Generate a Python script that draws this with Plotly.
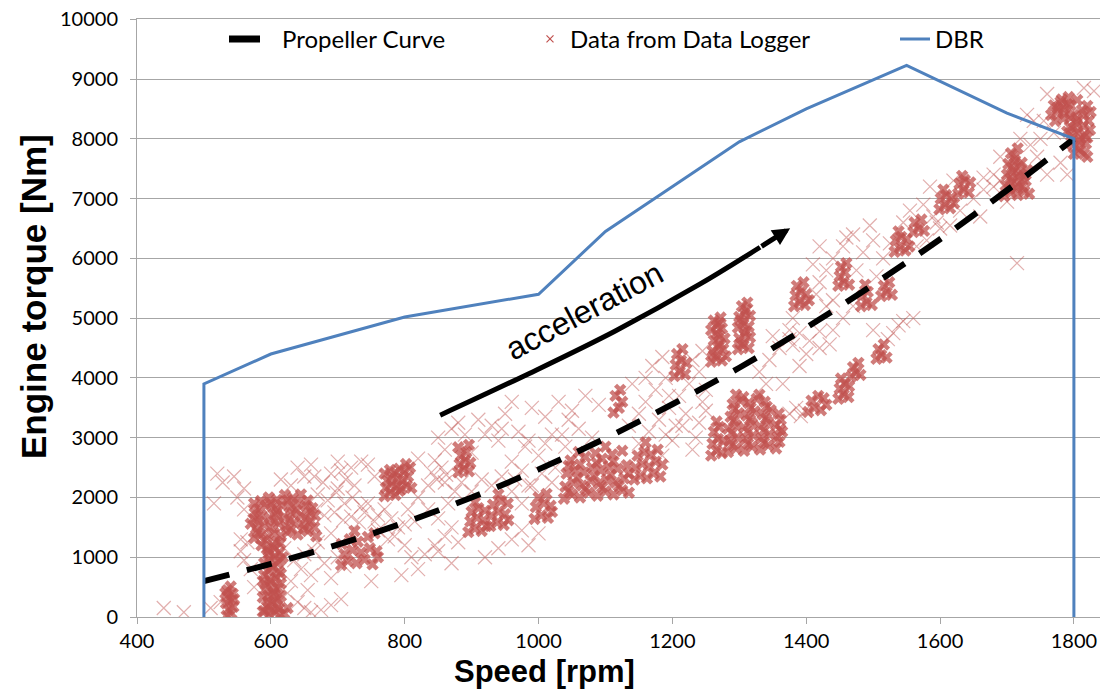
import plotly.graph_objects as go

# ---------------- data ----------------
speed_ticks = [400, 600, 800, 1000, 1200, 1400, 1600, 1800]
torque_ticks = [0, 1000, 2000, 3000, 4000, 5000, 6000, 7000, 8000, 9000, 10000]

prop_speed = [500, 600, 700, 800, 900, 1000, 1100, 1200, 1300, 1400, 1500, 1600, 1700, 1800]
prop_torque = [600, 890, 1210, 1580, 2000, 2470, 2990, 3560, 4170, 4840, 5560, 6320, 7140, 8000]

dbr_speed = [500, 500, 600, 800, 1000, 1100, 1300, 1400, 1550, 1700, 1800, 1800]
dbr_torque = [0, 3900, 4400, 5020, 5400, 6450, 7950, 8500, 9230, 8430, 8000, 0]

arrow_speed = [853, 987, 1114, 1241, 1331, 1376]
arrow_torque = [3377, 4080, 4782, 5568, 6186, 6504]

# dense logger clusters (speed rpm, torque Nm)
dense_low = [
    (534, 20), (541, 60), (537, 120), (544, 170), (533, 230), (540, 280), (536, 340), (543, 390),
    (535, 450), (540, 510), (545, 300), (532, 400),
    (598, 30), (606, 80), (612, 140), (594, 180), (602, 240), (609, 300), (596, 360), (604, 420),
    (611, 480), (592, 540), (600, 600), (608, 660), (615, 720), (595, 780), (603, 840), (610, 900),
    (598, 960), (606, 1020), (613, 1080), (594, 1140), (602, 1200), (609, 1260), (620, 60), (625, 150),
    (588, 90), (615, 350), (590, 700), (618, 1000), (586, 1200), (600, 120), (604, 500), (597, 1100),
    (590, 100), (614, 40), (596, 260), (610, 200), (588, 330), (606, 380), (592, 460), (615, 560),
    (598, 640), (588, 600), (612, 760), (600, 820), (590, 900), (614, 950), (596, 1050), (606, 1150),
    (590, 1280), (614, 1230),
    (575, 1320), (585, 1380), (595, 1340), (605, 1400), (615, 1360), (625, 1420), (640, 1380), (655, 1440),
    (668, 1350), (578, 1480), (590, 1540), (600, 1500), (612, 1560), (622, 1520), (635, 1580), (648, 1540),
    (660, 1600), (574, 1640), (586, 1700), (598, 1660), (608, 1720), (620, 1680), (632, 1740), (645, 1700),
    (658, 1760), (580, 1800), (592, 1860), (604, 1820), (616, 1880), (628, 1840), (640, 1900), (652, 1860),
    (585, 1940), (597, 2000), (609, 1960), (621, 2040), (633, 1990), (645, 2050),
    (580, 1420), (630, 1460), (650, 1480), (665, 1500), (570, 1560), (582, 1600), (605, 1610), (628, 1630),
    (652, 1650), (666, 1700), (576, 1740), (610, 1770), (638, 1790), (662, 1820), (600, 1900), (625, 1950),
    (575, 1900), (655, 1950),
    (770, 2020), (778, 2080), (786, 2040), (792, 2110), (772, 2160), (780, 2220), (788, 2180), (774, 2280),
    (782, 2340), (790, 2300), (770, 2400), (778, 2460), (786, 2420), (792, 2480),
    (705, 870), (715, 940), (728, 900), (740, 960), (752, 880), (760, 1000), (710, 1050), (722, 1120),
    (735, 1080), (748, 1150), (758, 1100), (706, 1220), (718, 1300), (730, 1260), (745, 1340), (755, 1400),
    (725, 1440),
    (795, 2140), (803, 2200), (810, 2160), (797, 2290), (805, 2350), (799, 2440), (808, 2500), (802, 2560),
]

dense_mid = [
    (880, 2420), (888, 2480), (896, 2440), (882, 2560), (890, 2620), (898, 2580), (884, 2700), (892, 2760),
    (880, 2840), (896, 2880),
    (895, 1420), (905, 1480), (915, 1440), (922, 1520), (898, 1600), (908, 1660), (918, 1620), (900, 1760),
    (910, 1820), (920, 1780), (905, 1920),
    (928, 1520), (938, 1580), (948, 1540), (955, 1620), (930, 1700), (940, 1760), (950, 1720), (932, 1880),
    (944, 1940), (954, 1900), (940, 2050),
    (994, 1640), (1004, 1700), (1014, 1660), (1020, 1760), (996, 1840), (1008, 1900), (1018, 1860),
    (1000, 2000), (1012, 2060),
    (1038, 1980), (1050, 2050), (1062, 2000), (1075, 2080), (1088, 2030), (1100, 2100), (1112, 2050),
    (1125, 2120), (1135, 2080), (1040, 2180), (1052, 2250), (1065, 2200), (1078, 2280), (1090, 2230),
    (1102, 2300), (1115, 2250), (1128, 2320), (1042, 2400), (1055, 2460), (1068, 2420), (1080, 2500),
    (1093, 2450), (1105, 2520), (1118, 2480), (1132, 2540), (1048, 2620), (1070, 2680), (1095, 2650),
    (1110, 2720), (1125, 2780),
    (1045, 2100), (1070, 2140), (1095, 2170), (1120, 2190), (1058, 2330), (1083, 2360), (1108, 2380),
    (1135, 2400), (1045, 2530), (1062, 2550), (1087, 2580), (1112, 2600), (1060, 2760), (1085, 2740),
    (1100, 2850),
    (1112, 3420), (1120, 3500), (1125, 3600), (1115, 3700), (1122, 3800),
    (1143, 2300), (1152, 2360), (1162, 2320), (1172, 2400), (1182, 2350), (1145, 2500), (1155, 2560),
    (1165, 2520), (1175, 2600), (1185, 2550), (1148, 2700), (1158, 2760), (1168, 2720), (1178, 2800),
    (1160, 2920),
]

dense_high = [
    (1258, 4270), (1266, 4330), (1274, 4290), (1280, 4360), (1260, 4450), (1268, 4520), (1276, 4480),
    (1262, 4630), (1270, 4700), (1278, 4660), (1258, 4800), (1266, 4870), (1274, 4830), (1262, 4960),
    (1272, 5010), (1262, 4380), (1272, 4560), (1266, 4740), (1270, 4920),
    (1298, 4480), (1306, 4540), (1314, 4500), (1300, 4660), (1308, 4720), (1316, 4680), (1298, 4840),
    (1306, 4900), (1314, 4860), (1300, 5020), (1308, 5080), (1316, 5040), (1304, 5200), (1312, 5260),
    (1302, 4580), (1310, 4780), (1302, 4960), (1310, 5140),
    (1203, 4030), (1211, 4100), (1219, 4060), (1205, 4220), (1213, 4290), (1221, 4250), (1207, 4400),
    (1215, 4480),
    (1283, 2760), (1295, 2820), (1307, 2780), (1319, 2850), (1331, 2800), (1343, 2870), (1355, 2820),
    (1285, 2950), (1297, 3010), (1309, 2970), (1321, 3040), (1333, 2990), (1345, 3060), (1357, 3010),
    (1364, 3100), (1283, 3150), (1295, 3210), (1307, 3170), (1319, 3240), (1331, 3190), (1343, 3260),
    (1355, 3210), (1287, 3350), (1299, 3410), (1311, 3370), (1323, 3440), (1335, 3390), (1347, 3460),
    (1359, 3400), (1290, 3560), (1302, 3620), (1314, 3580), (1326, 3650), (1338, 3600), (1295, 3720),
    (1290, 2880), (1313, 2900), (1337, 2920), (1360, 2930), (1289, 3080), (1313, 3100), (1337, 3120),
    (1361, 3140), (1292, 3280), (1316, 3300), (1340, 3320), (1362, 3300), (1293, 3480), (1317, 3500),
    (1341, 3520), (1306, 3680), (1330, 3720),
    (1258, 2700), (1266, 2780), (1274, 2740), (1260, 2900), (1268, 2980), (1276, 2940), (1262, 3100),
    (1270, 3180), (1266, 3270),
    (1382, 5200), (1390, 5260), (1398, 5220), (1404, 5300), (1384, 5380), (1392, 5440), (1400, 5400),
    (1386, 5540), (1396, 5600),
    (1448, 3650), (1456, 3720), (1463, 3680), (1450, 3820), (1458, 3900), (1464, 3860), (1452, 3990),
    (1403, 3430), (1412, 3500), (1422, 3460), (1430, 3550), (1408, 3620), (1418, 3700), (1426, 3660),
    (1448, 5540), (1456, 5600), (1464, 5560), (1450, 5700), (1458, 5760), (1452, 5860), (1460, 5920),
    (1482, 5200), (1490, 5260), (1498, 5220), (1484, 5380), (1492, 5440), (1488, 5560),
    (1512, 5370), (1520, 5430), (1528, 5390), (1516, 5540), (1524, 5600),
    (1532, 6110), (1540, 6170), (1548, 6130), (1554, 6200), (1534, 6300), (1542, 6360), (1550, 6320),
    (1538, 6450),
    (1560, 6440), (1568, 6500), (1576, 6460), (1562, 6600), (1572, 6650),
    (1599, 6820), (1607, 6880), (1615, 6840), (1621, 6920), (1601, 7000), (1609, 7060), (1617, 7020),
    (1605, 7150),
    (1627, 7080), (1635, 7140), (1643, 7100), (1629, 7250), (1637, 7310), (1645, 7270), (1633, 7380),
    (1467, 4020), (1474, 4090), (1481, 4050), (1470, 4180), (1478, 4250),
    (1505, 4320), (1512, 4380), (1520, 4340), (1508, 4480), (1516, 4560),
    (1696, 7040), (1706, 7100), (1716, 7060), (1726, 7120), (1733, 7080), (1698, 7220), (1708, 7280),
    (1718, 7240), (1728, 7300), (1700, 7400), (1710, 7460), (1720, 7420), (1730, 7480), (1702, 7580),
    (1712, 7640), (1722, 7600), (1706, 7760), (1716, 7840),
    (1703, 7160), (1713, 7180), (1723, 7200), (1705, 7340), (1715, 7360), (1725, 7380), (1707, 7520),
    (1717, 7540), (1711, 7700),
    (1766, 8400), (1776, 8460), (1786, 8420), (1770, 8560), (1780, 8620), (1790, 8580), (1772, 8300),
    (1784, 8340), (1794, 8200), (1804, 8260), (1814, 8220), (1822, 8300), (1796, 8050), (1806, 8110),
    (1816, 8070), (1824, 8150), (1798, 7900), (1808, 7960), (1818, 7920), (1800, 7750), (1810, 7800),
    (1820, 7700), (1800, 8400), (1812, 8480), (1820, 8550), (1805, 8650), (1792, 8700),
    (1775, 8520), (1785, 8500), (1795, 8360), (1805, 8330), (1815, 8400), (1825, 8450), (1790, 8120),
    (1800, 8180), (1810, 8000), (1820, 8020), (1805, 7850), (1815, 7750), (1782, 8660), (1795, 8560),
]

# scattered individual logger readings
sparse = [
    (555, 1100), (565, 1250), (560, 950), (625, 400), (640, 250), (650, 150), (660, 80), (675, 120),
    (690, 200), (705, 300), (630, 600), (645, 800), (660, 700), (680, 900), (700, 1000), (620, 1150),
    (665, 1100), (690, 650), (710, 850), (655, 450), (635, 950), (570, 800), (575, 500),
    (440, 150), (470, 80), (520, 2400), (528, 2250), (545, 2350), (560, 2150), (550, 2000), (515, 1900),
    (525, 250), (560, 1800), (510, 150), (555, 1300),
    (665, 2350), (678, 2250), (690, 2400), (700, 2150), (712, 2300), (725, 2200), (670, 2050), (685, 1950),
    (698, 2080), (710, 1900), (722, 2000), (735, 1850), (668, 1800), (680, 1700), (695, 1750), (708, 1620),
    (720, 1680), (732, 1580),
    (700, 2600), (745, 2550), (760, 1700), (790, 1500), (800, 1200), (775, 1300), (810, 1000), (820, 800),
    (795, 700), (750, 600), (735, 2600), (820, 2650), (805, 1800),
    (835, 2200), (848, 2300), (860, 2250), (840, 2420), (855, 2500), (845, 2620), (862, 2380),
    (850, 3000), (870, 3150), (890, 3050), (910, 3300), (930, 3200), (950, 3400), (970, 3100), (990, 3500),
    (1010, 3350), (1030, 3600), (1050, 3450), (1070, 3700), (1090, 3550), (940, 2950), (980, 2850),
    (1020, 3050), (1060, 3150), (1000, 2700), (960, 3600), (1080, 3000), (900, 2750), (860, 2800),
    (1040, 2850),
    (830, 1050), (845, 1200), (860, 1350), (850, 1100), (870, 900), (880, 1250), (960, 1300), (975, 1450),
    (985, 1200), (940, 1150), (920, 1000), (1000, 1400),
    (965, 2300), (975, 2450), (985, 2200), (960, 2600), (1025, 2500),
    (1150, 2900), (1165, 3100), (1180, 3300), (1195, 3500), (1210, 3700), (1225, 3900), (1240, 4100),
    (1160, 3600), (1175, 3800), (1190, 4000), (1205, 3200), (1220, 3400), (1235, 3000), (1245, 3600),
    (1150, 3400), (1170, 4200), (1230, 2800), (1185, 2700), (1250, 3800),
    (1375, 4650), (1390, 4750), (1405, 4620), (1420, 4780), (1380, 4550), (1435, 4560),
    (1392, 3360), (1398, 3450), (1385, 3500), (1375, 3400),
    (1522, 4650), (1530, 4750), (1538, 4880), (1545, 4950), (1560, 5000), (1500, 4800),
    (1440, 6000), (1455, 6200), (1470, 6400), (1485, 6100), (1500, 6300), (1515, 6000), (1430, 5800),
    (1420, 6200), (1410, 5900), (1475, 5800), (1505, 5700), (1495, 6550), (1460, 6350), (1525, 6250),
    (1730, 8400), (1750, 8000), (1680, 7400), (1760, 7400), (1715, 5920), (1745, 7700), (1690, 7700),
    (1665, 7350), (1660, 6700), (1700, 6950), (1830, 8800), (1815, 8850), (1740, 8300),
    (1575, 6900), (1585, 7200), (1590, 6700), (1600, 6500), (1555, 6800), (1620, 7300),
    (615, 2300), (630, 2200), (650, 2350), (640, 2500), (660, 2550), (720, 2500), (705, 2450), (755, 2350),
    (745, 1900), (755, 1600), (770, 1800), (780, 1650), (740, 1750), (760, 1450), (785, 1350), (800, 1550),
    (815, 1600), (690, 1400), (670, 1250), (650, 1050),
    (820, 2000), (835, 1800), (850, 1650), (865, 1900), (875, 2100), (885, 2250), (870, 1500), (900, 2100),
    (915, 2300), (930, 2200), (945, 2350), (960, 2100), (975, 1900), (990, 2200), (1005, 2400),
    (1020, 2250), (880, 3250), (920, 3050), (945, 3150), (985, 2950), (1010, 2900), (1045, 3300),
    (1035, 3050),
    (1190, 3050), (1200, 2950), (1215, 3200), (1240, 3250), (1250, 3450), (1195, 3700), (1230, 4300),
    (1245, 4450), (1185, 4350), (1160, 4000), (1140, 3900), (1135, 3200),
    (1330, 4100), (1345, 4300), (1360, 4500), (1375, 4800), (1350, 4700), (1340, 3900), (1365, 3900),
    (1390, 4200), (1400, 4400), (1420, 4500), (1440, 4800), (1455, 5000), (1470, 5200), (1430, 5200),
    (1415, 5400), (1380, 5000), (1420, 5600), (1440, 5300),
    (1545, 6600), (1565, 6200), (1580, 6300), (1595, 6600), (1615, 6550), (1630, 6800), (1650, 7000),
    (1665, 7150), (1680, 7200), (1690, 7300), (1735, 7900), (1720, 8000), (1755, 8300), (1770, 8100),
    (1780, 7600), (1790, 7400), (1760, 8750),
]

RED = "#C0504D"
TICK_FONT = dict(family="Lato, Open Sans", size=20, color="black")
dense = dense_low + dense_mid + dense_high

fig = go.Figure()

fig.add_trace(go.Scatter(
    x=[p[0] for p in sparse], y=[p[1] for p in sparse], mode="markers",
    marker=dict(symbol="x-thin", size=14, color=RED, opacity=0.45,
                line=dict(color=RED, width=1.2)),
    showlegend=False, hoverinfo="skip"))

fig.add_trace(go.Scatter(
    x=[p[0] for p in dense], y=[p[1] for p in dense], mode="markers",
    marker=dict(symbol="x", size=11, color=RED, opacity=0.75, line=dict(width=0)),
    showlegend=False, hoverinfo="skip"))

# legend-only entries (keys drawn as in the original)
fig.add_trace(go.Scatter(
    x=[None], y=[None], mode="lines", name="Propeller Curve", legend="legend",
    line=dict(color="black", width=7, dash="31px,200px")))
fig.add_trace(go.Scatter(
    x=[None], y=[None], mode="markers", name="Data from Data Logger", legend="legend2",
    marker=dict(symbol="x-thin", size=7, color=RED, line=dict(color=RED, width=1.2))))

fig.add_trace(go.Scatter(
    x=prop_speed, y=prop_torque, mode="lines", showlegend=False, hoverinfo="skip",
    line=dict(color="black", width=6, dash="26px,18px", shape="spline")))

fig.add_trace(go.Scatter(
    x=dbr_speed, y=dbr_torque, mode="lines", name="DBR", legend="legend3",
    line=dict(color="#4F81BD", width=3)))

fig.add_trace(go.Scatter(
    x=arrow_speed[:-1], y=arrow_torque[:-1], mode="lines",
    line=dict(color="black", width=5, shape="spline"), showlegend=False, hoverinfo="skip"))

fig.add_annotation(x=arrow_speed[-1], y=arrow_torque[-1], ax=arrow_speed[-2], ay=arrow_torque[-2],
                   xref="x", yref="y", axref="x", ayref="y", text="", showarrow=True,
                   arrowhead=2, arrowsize=0.7, arrowwidth=5, arrowcolor="black", standoff=0)

fig.add_annotation(x=1068, y=5120, xref="x", yref="y", text="acceleration", showarrow=False,
                   textangle=-28, font=dict(family="Liberation Sans, Arial", size=32, color="black"))

# axis titles (placed where the original has them)
fig.add_annotation(x=(544 - 137) / 963, y=(617 - 671) / 598, xref="paper", yref="paper",
                   text="<b>Speed [rpm]</b>", showarrow=False, xanchor="center", yanchor="middle",
                   font=dict(family="Liberation Sans, Arial", size=31, color="black"))
fig.add_annotation(x=(33 - 137) / 963, y=(617 - 297) / 598, xref="paper", yref="paper",
                   text="<b>Engine torque [Nm]</b>", showarrow=False, textangle=-90,
                   xanchor="center", yanchor="middle",
                   font=dict(family="Liberation Sans, Arial", size=35, color="black"))

legend_common = dict(orientation="h", yanchor="middle", y=0.966, xanchor="left",
                     bgcolor="rgba(0,0,0,0)",
                     font=dict(family="Lato, Open Sans", size=24, color="black"))

fig.update_layout(
    width=1103, height=694,
    margin=dict(l=137, r=3, t=19, b=77),
    plot_bgcolor="white", paper_bgcolor="white",
    legend=dict(legend_common, x=87 / 963, itemwidth=48),
    legend2=dict(legend_common, x=393 / 963),
    legend3=dict(legend_common, x=758 / 963),
    xaxis=dict(range=[400, 1839], tickvals=speed_ticks, ticktext=[str(v) for v in speed_ticks],
               showgrid=False, zeroline=False, showline=True, linecolor="#A6A6A6", linewidth=1,
               mirror=True, ticks="outside", ticklen=6, tickcolor="#A6A6A6", tickfont=TICK_FONT,
               ticklabeloverflow="allow", automargin=False),
    yaxis=dict(range=[0, 10005], tickvals=torque_ticks, ticktext=[str(v) for v in torque_ticks],
               showgrid=True, gridcolor="#A6A6A6", gridwidth=1, zeroline=False,
               showline=True, linecolor="#A6A6A6", linewidth=1,
               ticks="outside", ticklen=6, tickcolor="#A6A6A6", tickfont=TICK_FONT,
               ticklabelstandoff=8, ticklabeloverflow="allow", automargin=False),
)

fig.write_html("out.html", config={"displayModeBar": False},
               post_script="document.body.style.margin='0';")
